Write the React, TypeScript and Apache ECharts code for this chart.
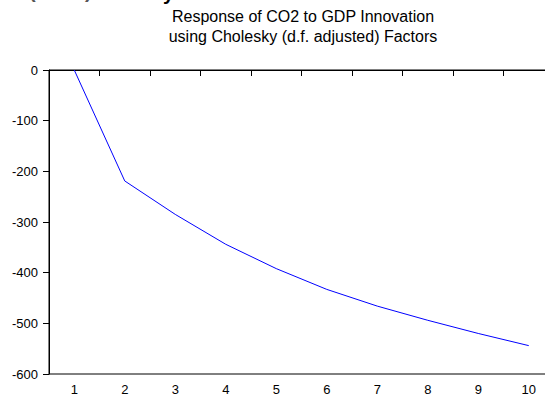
import React, { useEffect, useRef } from "react";
import * as echarts from "echarts";

const periods = ["1", "2", "3", "4", "5", "6", "7", "8", "9", "10"];
const responseValues = [0, -219, -285, -344, -392, -433, -466, -494, -520, -544];
const titleLines = ["Response of CO2 to GDP Innovation", "using Cholesky (d.f. adjusted) Factors"];
const yMin = -600;
const yMax = 0;
const yStep = 100;

export default function App() {
  const ref = useRef<HTMLDivElement>(null);
  useEffect(() => {
    if (!ref.current) return;
    const chart = echarts.init(ref.current, undefined, { renderer: "svg" });
    const font = "'Liberation Sans', Arial, sans-serif";
    chart.setOption({
      animation: false,
      backgroundColor: "#ffffff",
      title: {
        text: titleLines.join("\n"),
        left: 298,
        textAlign: "center",
        top: 1,
        textStyle: {
          fontFamily: font,
          fontSize: 16,
          fontWeight: "normal",
          color: "#000",
          lineHeight: 20,
        },
      },
      graphic: [
        {
          type: "text",
          left: 29,
          top: -19,
          style: { text: "(", font: "bold 20px 'Liberation Sans', Arial, sans-serif", fill: "#555" },
        },
        {
          type: "text",
          left: 85,
          top: -19,
          style: { text: ")", font: "bold 20px 'Liberation Sans', Arial, sans-serif", fill: "#555" },
        },
        {
          type: "text",
          left: 163,
          top: -17,
          style: { text: "y", font: "bold 20px 'Liberation Sans', Arial, sans-serif", fill: "#000" },
        },
      ],
      grid: {
        left: 49,
        top: 70,
        width: 505,
        height: 304,
        outerBoundsMode: "none",
        containLabel: false,
        show: true,
        borderColor: "#000",
        borderWidth: 1,
        backgroundColor: "transparent",
      },
      xAxis: {
        type: "category",
        data: periods,
        boundaryGap: true,
        axisLine: { lineStyle: { color: "#000", width: 1 } },
        axisTick: { show: true, length: 6, alignWithLabel: false, lineStyle: { color: "#000" } },
        axisLabel: { color: "#000", fontFamily: font, fontSize: 13, margin: 9 },
        splitLine: { show: false },
      },
      yAxis: {
        type: "value",
        min: yMin,
        max: yMax,
        interval: yStep,
        axisLine: { show: true, lineStyle: { color: "#000", width: 1 } },
        axisTick: { show: true, length: 6, lineStyle: { color: "#000" } },
        axisLabel: { color: "#000", fontFamily: font, fontSize: 13, margin: 11 },
        splitLine: { show: false },
      },
      series: [
        {
          type: "line",
          data: responseValues,
          showSymbol: false,
          symbol: "none",
          lineStyle: { color: "#0000ff", width: 1 },
        },
      ],
    });
    return () => chart.dispose();
  }, []);
  return (
    <div
      ref={ref}
      style={{ position: "fixed", left: 0, top: 0, width: 545, height: 396, background: "#fff" }}
    />
  );
}
